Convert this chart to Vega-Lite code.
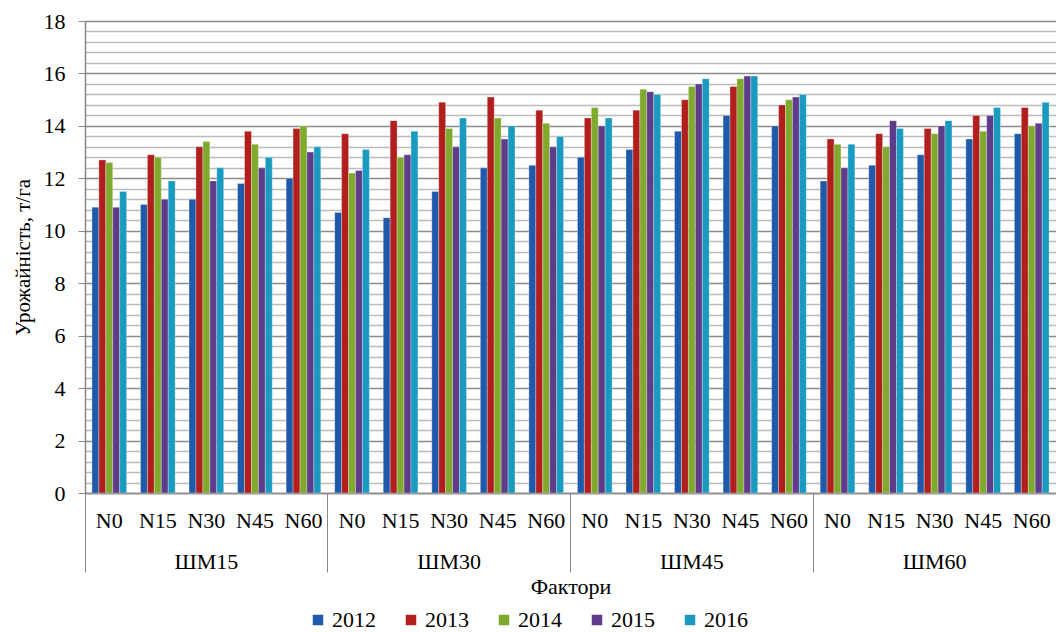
{
  "$schema": "https://vega.github.io/schema/vega-lite/v6.json",
  "autosize": {"type": "none"},
  "padding": {"left": 85, "top": 21, "right": 0, "bottom": 139},
  "width": 971,
  "height": 472,
  "background": "white",
  "config": {
    "view": {"stroke": null},
    "font": "Times New Roman, Liberation Serif, DejaVu Serif, serif"
  },
  "data": {
    "values": [
      {"f": "ШМ15 N0", "year": "2012", "v": 10.9}, {"f": "ШМ15 N0", "year": "2013", "v": 12.7}, {"f": "ШМ15 N0", "year": "2014", "v": 12.6}, {"f": "ШМ15 N0", "year": "2015", "v": 10.9}, {"f": "ШМ15 N0", "year": "2016", "v": 11.5},
      {"f": "ШМ15 N15", "year": "2012", "v": 11.0}, {"f": "ШМ15 N15", "year": "2013", "v": 12.9}, {"f": "ШМ15 N15", "year": "2014", "v": 12.8}, {"f": "ШМ15 N15", "year": "2015", "v": 11.2}, {"f": "ШМ15 N15", "year": "2016", "v": 11.9},
      {"f": "ШМ15 N30", "year": "2012", "v": 11.2}, {"f": "ШМ15 N30", "year": "2013", "v": 13.2}, {"f": "ШМ15 N30", "year": "2014", "v": 13.4}, {"f": "ШМ15 N30", "year": "2015", "v": 11.9}, {"f": "ШМ15 N30", "year": "2016", "v": 12.4},
      {"f": "ШМ15 N45", "year": "2012", "v": 11.8}, {"f": "ШМ15 N45", "year": "2013", "v": 13.8}, {"f": "ШМ15 N45", "year": "2014", "v": 13.3}, {"f": "ШМ15 N45", "year": "2015", "v": 12.4}, {"f": "ШМ15 N45", "year": "2016", "v": 12.8},
      {"f": "ШМ15 N60", "year": "2012", "v": 12.0}, {"f": "ШМ15 N60", "year": "2013", "v": 13.9}, {"f": "ШМ15 N60", "year": "2014", "v": 14.0}, {"f": "ШМ15 N60", "year": "2015", "v": 13.0}, {"f": "ШМ15 N60", "year": "2016", "v": 13.2},
      {"f": "ШМ30 N0", "year": "2012", "v": 10.7}, {"f": "ШМ30 N0", "year": "2013", "v": 13.7}, {"f": "ШМ30 N0", "year": "2014", "v": 12.2}, {"f": "ШМ30 N0", "year": "2015", "v": 12.3}, {"f": "ШМ30 N0", "year": "2016", "v": 13.1},
      {"f": "ШМ30 N15", "year": "2012", "v": 10.5}, {"f": "ШМ30 N15", "year": "2013", "v": 14.2}, {"f": "ШМ30 N15", "year": "2014", "v": 12.8}, {"f": "ШМ30 N15", "year": "2015", "v": 12.9}, {"f": "ШМ30 N15", "year": "2016", "v": 13.8},
      {"f": "ШМ30 N30", "year": "2012", "v": 11.5}, {"f": "ШМ30 N30", "year": "2013", "v": 14.9}, {"f": "ШМ30 N30", "year": "2014", "v": 13.9}, {"f": "ШМ30 N30", "year": "2015", "v": 13.2}, {"f": "ШМ30 N30", "year": "2016", "v": 14.3},
      {"f": "ШМ30 N45", "year": "2012", "v": 12.4}, {"f": "ШМ30 N45", "year": "2013", "v": 15.1}, {"f": "ШМ30 N45", "year": "2014", "v": 14.3}, {"f": "ШМ30 N45", "year": "2015", "v": 13.5}, {"f": "ШМ30 N45", "year": "2016", "v": 14.0},
      {"f": "ШМ30 N60", "year": "2012", "v": 12.5}, {"f": "ШМ30 N60", "year": "2013", "v": 14.6}, {"f": "ШМ30 N60", "year": "2014", "v": 14.1}, {"f": "ШМ30 N60", "year": "2015", "v": 13.2}, {"f": "ШМ30 N60", "year": "2016", "v": 13.6},
      {"f": "ШМ45 N0", "year": "2012", "v": 12.8}, {"f": "ШМ45 N0", "year": "2013", "v": 14.3}, {"f": "ШМ45 N0", "year": "2014", "v": 14.7}, {"f": "ШМ45 N0", "year": "2015", "v": 14.0}, {"f": "ШМ45 N0", "year": "2016", "v": 14.3},
      {"f": "ШМ45 N15", "year": "2012", "v": 13.1}, {"f": "ШМ45 N15", "year": "2013", "v": 14.6}, {"f": "ШМ45 N15", "year": "2014", "v": 15.4}, {"f": "ШМ45 N15", "year": "2015", "v": 15.3}, {"f": "ШМ45 N15", "year": "2016", "v": 15.2},
      {"f": "ШМ45 N30", "year": "2012", "v": 13.8}, {"f": "ШМ45 N30", "year": "2013", "v": 15.0}, {"f": "ШМ45 N30", "year": "2014", "v": 15.5}, {"f": "ШМ45 N30", "year": "2015", "v": 15.6}, {"f": "ШМ45 N30", "year": "2016", "v": 15.8},
      {"f": "ШМ45 N45", "year": "2012", "v": 14.4}, {"f": "ШМ45 N45", "year": "2013", "v": 15.5}, {"f": "ШМ45 N45", "year": "2014", "v": 15.8}, {"f": "ШМ45 N45", "year": "2015", "v": 15.9}, {"f": "ШМ45 N45", "year": "2016", "v": 15.9},
      {"f": "ШМ45 N60", "year": "2012", "v": 14.0}, {"f": "ШМ45 N60", "year": "2013", "v": 14.8}, {"f": "ШМ45 N60", "year": "2014", "v": 15.0}, {"f": "ШМ45 N60", "year": "2015", "v": 15.1}, {"f": "ШМ45 N60", "year": "2016", "v": 15.2},
      {"f": "ШМ60 N0", "year": "2012", "v": 11.9}, {"f": "ШМ60 N0", "year": "2013", "v": 13.5}, {"f": "ШМ60 N0", "year": "2014", "v": 13.3}, {"f": "ШМ60 N0", "year": "2015", "v": 12.4}, {"f": "ШМ60 N0", "year": "2016", "v": 13.3},
      {"f": "ШМ60 N15", "year": "2012", "v": 12.5}, {"f": "ШМ60 N15", "year": "2013", "v": 13.7}, {"f": "ШМ60 N15", "year": "2014", "v": 13.2}, {"f": "ШМ60 N15", "year": "2015", "v": 14.2}, {"f": "ШМ60 N15", "year": "2016", "v": 13.9},
      {"f": "ШМ60 N30", "year": "2012", "v": 12.9}, {"f": "ШМ60 N30", "year": "2013", "v": 13.9}, {"f": "ШМ60 N30", "year": "2014", "v": 13.7}, {"f": "ШМ60 N30", "year": "2015", "v": 14.0}, {"f": "ШМ60 N30", "year": "2016", "v": 14.2},
      {"f": "ШМ60 N45", "year": "2012", "v": 13.5}, {"f": "ШМ60 N45", "year": "2013", "v": 14.4}, {"f": "ШМ60 N45", "year": "2014", "v": 13.8}, {"f": "ШМ60 N45", "year": "2015", "v": 14.4}, {"f": "ШМ60 N45", "year": "2016", "v": 14.7},
      {"f": "ШМ60 N60", "year": "2012", "v": 13.7}, {"f": "ШМ60 N60", "year": "2013", "v": 14.7}, {"f": "ШМ60 N60", "year": "2014", "v": 14.0}, {"f": "ШМ60 N60", "year": "2015", "v": 14.1}, {"f": "ШМ60 N60", "year": "2016", "v": 14.9}
    ]
  },
  "mark": {"type": "bar", "stroke": "white", "strokeOpacity": 0.5, "strokeWidth": 0.6},
  "encoding": {
    "x": {
      "field": "f",
      "type": "ordinal",
      "sort": null,
      "scale": {"paddingInner": 0, "paddingOuter": 0},
      "axis": {
        "title": "Фактори",
        "titleFont": "Times New Roman, Liberation Serif, DejaVu Serif, serif",
        "titleFontSize": 22,
        "titleFontWeight": "normal",
        "titleColor": "black",
        "titleBaseline": "middle",
        "titleY": 93,
        "labelAngle": 0,
        "labelFont": "Times New Roman, Liberation Serif, DejaVu Serif, serif",
        "labelFontSize": 22,
        "labelColor": "black",
        "labelAlign": "center",
        "labelBaseline": "middle",
        "labelLineHeight": 41,
        "labelOverlap": false,
        "labelBound": false,
        "labelFlush": false,
        "bandPosition": 0,
        "labelPadding": -52,
        "labelExpr": "split(datum.value, ' ')[1] == 'N30' ? [split(datum.value, ' ')[1], split(datum.value, ' ')[0]] : split(datum.value, ' ')[1]",
        "ticks": true,
        "tickSize": 79,
        "tickColor": "#888888",
        "tickWidth": 1,
        "tickOpacity": {"condition": {"test": "split(datum.value, ' ')[1] == 'N0'", "value": 1}, "value": 0},
        "domainColor": "#888888",
        "domainWidth": 1.5,
        "grid": false
      }
    },
    "xOffset": {
      "field": "year",
      "type": "nominal",
      "scale": {"paddingInner": 0, "paddingOuter": 1.5}
    },
    "y": {
      "field": "v",
      "type": "quantitative",
      "scale": {"domain": [0, 18], "nice": false, "zero": true},
      "axis": {
        "title": "Урожайність, т/га",
        "titleFont": "Times New Roman, Liberation Serif, DejaVu Serif, serif",
        "titleFontSize": 21,
        "titleFontWeight": "normal",
        "titleColor": "black",
        "titleAngle": -90,
        "titleX": -62,
        "titleY": 236,
        "titleAlign": "center",
        "titleBaseline": "middle",
        "tickCount": 100,
        "tickMinStep": 0.1,
        "values": [0, 0.4, 0.8, 1.2, 1.6, 2, 2.4, 2.8, 3.2, 3.6, 4, 4.4, 4.8, 5.2, 5.6, 6, 6.4, 6.8, 7.2, 7.6, 8, 8.4, 8.8, 9.2, 9.6, 10, 10.4, 10.8, 11.2, 11.6, 12, 12.4, 12.8, 13.2, 13.6, 14, 14.4, 14.8, 15.2, 15.6, 16, 16.4, 16.8, 17.2, 17.6, 18],
        "labelExpr": "datum.value % 2 == 0 ? '' + datum.value : ''",
        "labelFont": "Times New Roman, Liberation Serif, DejaVu Serif, serif",
        "labelFontSize": 22,
        "labelColor": "black",
        "labelPadding": 13,
        "labelOverlap": false,
        "labelBound": false,
        "labelFlush": false,
        "tickSize": 7,
        "tickColor": "#888888",
        "tickOpacity": {"condition": {"test": "datum.value % 2 == 0", "value": 1}, "value": 0},
        "domainColor": "#888888",
        "domainWidth": 1.5,
        "grid": true,
        "gridColor": {"condition": {"test": "datum.value % 2 == 0", "value": "#8a8a8a"}, "value": "#bcbcbc"},
        "gridWidth": 1.3
      }
    },
    "color": {
      "field": "year",
      "type": "nominal",
      "scale": {
        "domain": ["2012", "2013", "2014", "2015", "2016"],
        "range": ["#1f5aaa", "#b01e1e", "#80aa2e", "#5e3c8a", "#1a9abf"]
      },
      "legend": {
        "title": null,
        "orient": "none",
        "direction": "horizontal",
        "legendX": 222,
        "legendY": 588,
        "symbolType": "square",
        "symbolSize": 110,
        "symbolStrokeWidth": 0,
        "labelFont": "Times New Roman, Liberation Serif, DejaVu Serif, serif",
        "labelFontSize": 22,
        "labelColor": "black",
        "labelOffset": 3,
        "columnPadding": 24
      }
    }
  }
}
